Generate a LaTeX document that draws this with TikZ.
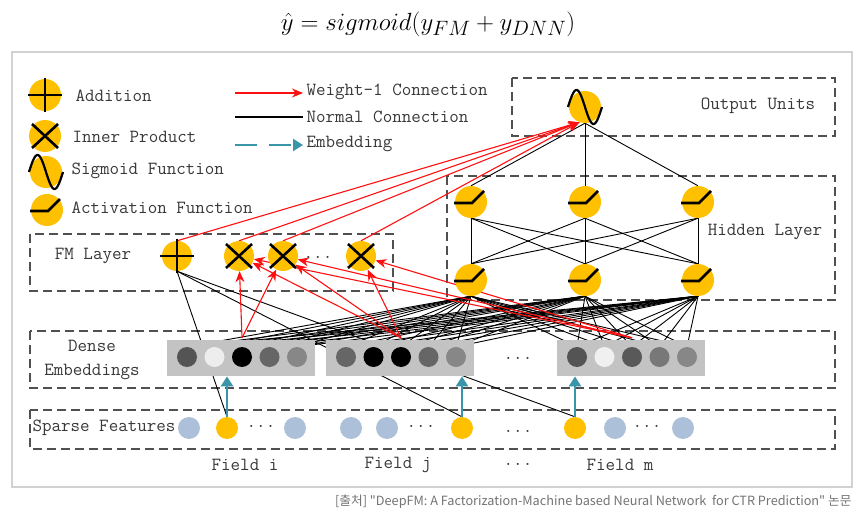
\documentclass[tikz,border=0pt]{standalone}
\usepackage{fontspec}
\newfontfamily\cjkfont{Noto Sans CJK KR}
\usetikzlibrary{arrows.meta,calc,positioning}
\definecolor{unitgold}{HTML}{FFC000}
\definecolor{sparseblue}{HTML}{ADC0DA}
\definecolor{embteal}{HTML}{3A94AA}
\definecolor{densegray}{HTML}{C3C3C3}
\definecolor{boxgray}{HTML}{505050}
\definecolor{framegray}{HTML}{D2D2D2}
\definecolor{wred}{HTML}{FF1010}
\pgfdeclarelayer{bg}
\pgfdeclarelayer{edges}
\pgfsetlayers{bg,edges,main}

\tikzset{
  unit/.style={circle, fill=unitgold, inner sep=0pt, minimum size=32pt},
  fmunit/.style={unit, minimum size=30pt},
  feat/.style={circle, inner sep=0pt, minimum size=22pt},
  emb/.style={circle, inner sep=0pt, minimum size=20pt},
  layerbox/.style={draw=boxgray, line width=1.6pt, dash pattern=on 9pt off 5pt},
  lbl/.style={font=\ttfamily\fontsize{18.5}{20}\selectfont, text=black!78},
  weightline/.style={wred, line width=1.1pt, -{Stealth[length=11pt,width=9pt]}},
  normline/.style={black, line width=0.9pt},
  embarrow/.style={embteal, line width=2.6pt, -{Triangle[length=10pt,width=12pt]}},
  iconline/.style={black, line width=2.6pt},
  addpic/.pic={\draw[iconline] (-17,0) -- (17,0) (0,-17) -- (0,17);},
  prodpic/.pic={\draw[iconline] (-13,-12) -- (13,12) (-13,12) -- (13,-12);},
  sigpic/.pic={\draw[iconline, line width=2.2pt] plot[domain=-17:17, samples=40, smooth] (\x, {-17*sin(180*(\x+17)/17)});},
  actpic/.pic={\draw[iconline, line join=miter] (-17,1) -- (1,1) -- (13,-11);},
}

\begin{document}
\begin{tikzpicture}[x=1pt, y=-1pt]
\useasboundingbox (0,0) rectangle (863,519);

% formula and frame
\node[font=\fontsize{31}{34}\selectfont, inner sep=0pt] (formula) at (428,24) {$\hat{y} = sigmoid(y_{FM} + y_{DNN})$};
\begin{pgfonlayer}{bg}
  \draw[framegray, line width=1.5pt, fill=white] (12,52) rectangle (852,487);
  % layer boxes
  \draw[layerbox] (512,78) rectangle (835,136);
  \draw[layerbox] (447,176) rectangle (835,300);
  \draw[layerbox] (30,234) rectangle (393,291);
  \draw[layerbox] (30,331) rectangle (835,388);
  \draw[layerbox] (30,410) rectangle (835,449);
\end{pgfonlayer}

% legend
\node[unit] (lgadd) at (45,95) {}; \pic at (lgadd) {addpic};
\node[unit] (lgprod) at (45,136) {}; \pic at (lgprod) {prodpic};
\node[unit] (lgsig) at (46,172) {}; \pic at (lgsig) {sigpic};
\node[unit] (lgact) at (47,210) {}; \pic at (lgact) {actpic};
\node[lbl, anchor=west] (lgaddtxt) at (72,96) {Addition};
\node[lbl, anchor=west] (lgprodtxt) at (69,137) {Inner Product};
\node[lbl, anchor=west] (lgsigtxt) at (68,171) {Sigmoid Function};
\node[lbl, anchor=west] (lgacttxt) at (68,208) {Activation Function};

\node[lbl, anchor=west] (wtxt) at (303,92) {Weight-1 Connection};
\node[lbl, anchor=west] (ntxt) at (303,117) {Normal Connection};
\node[lbl, anchor=west] (etxt) at (303,144) {Embedding};
\coordinate (wfrom) at (235,93);
\coordinate (nfrom) at (235,117);
\coordinate (efrom) at (235,145);
\draw[weightline] (wfrom) -- (wfrom -| wtxt.west);
\draw[normline, line width=1.2pt] (nfrom) -- (nfrom -| ntxt.west);
\draw[embarrow, line width=2.4pt, dash pattern=on 22pt off 12pt] (efrom) -- (efrom -| etxt.west);

% layer names
\node[lbl] (outtxt) at (758,106) {Output Units};
\node[lbl] (hidtxt) at (765,232) {Hidden Layer};
\node[lbl] (fmtxt) at (93,256) {FM Layer};
\node[lbl, align=center, font=\ttfamily\fontsize{18.5}{24}\selectfont] (densetxt) at (92,360) {Dense\\Embeddings};
\node[lbl] (sparsetxt) at (104,428) {Sparse Features};

% output and hidden units
\node[unit] (out) at (585,107) {}; \pic at (out) {sigpic};
\foreach \i/\hx in {1/471,2/585,3/698} {
  \node[unit] (ht\i) at (\hx,202) {}; \pic at (ht\i) {actpic};
  \node[unit] (hb\i) at (\hx,280) {}; \pic at (hb\i) {actpic};
}

% FM units
\node[fmunit] (fmadd) at (177,256) {}; \pic at (fmadd) {addpic};
\foreach \i/\fx in {1/239,2/283,3/361} {
  \node[fmunit] (fmx\i) at (\fx,256) {}; \pic at (fmx\i) {prodpic};
}
\node[lbl] (fmdots) at (318,257) {...};

% dense embeddings
\foreach \g/\gx/\ca/\cb/\cc/\cd/\ce in {1/167/black!67/black!7/black/black!60/black!47,
    2/326/black!60/black/black/black!60/black!47,
    3/557/black!67/black!6/black!65/black!53/black!47} {
  \node[fill=densegray, inner sep=0pt, minimum width=148, minimum height=36, anchor=north west] (g\g) at (\gx,340) {};
  \foreach \k/\c in {1/\ca,2/\cb,3/\cc,4/\cd,5/\ce} {
    \node[emb, fill=\c] (d\g\k) at ({\gx+20+27.5*(\k-1)},357) {};
  }
}
\node[lbl] (densedots) at (518,358) {...};

% sparse features
\node[feat, fill=sparseblue] (s1) at (189,428) {};
\node[feat, fill=unitgold] (sy1) at (227,428) {};
\node[lbl] (sdots1) at (261,426) {...};
\node[feat, fill=sparseblue] (s2) at (295,428) {};
\node[feat, fill=sparseblue] (s3) at (351,428) {};
\node[feat, fill=sparseblue] (s4) at (387,428) {};
\node[lbl] (sdots2) at (421,426) {...};
\node[feat, fill=unitgold] (sy2) at (462,428) {};
\node[lbl] (sdots3) at (518,431) {...};
\node[feat, fill=unitgold] (sy3) at (575,428) {};
\node[feat, fill=sparseblue] (s5) at (615,428) {};
\node[lbl] (sdots4) at (647,426) {...};
\node[feat, fill=sparseblue] (s6) at (683,428) {};

\node[lbl] (fieldi) at (245,465) {Field i};
\node[lbl] (fieldj) at (398,465) {Field j};
\node[lbl] (fielddots) at (518,464) {...};
\node[lbl] (fieldm) at (620,465) {Field m};

% connections
\begin{pgfonlayer}{edges}
  \foreach \g in {1,2,3}
    \foreach \k in {1,...,5}
      \foreach \h in {1,2,3}
        \draw[normline] (d\g\k.north) -- (hb\h.south);
  \foreach \a in {1,2,3}
    \foreach \b in {1,2,3}
      \draw[normline] (ht\a.south) -- (hb\b.north);
  \foreach \a in {1,2,3}
    \draw[normline] (out.south) -- (ht\a.north);
  \foreach \j in {1,2,3} {
    \draw[normline] (fmadd.south) -- (sy\j.north);
    \draw[embarrow] (sy\j.north) -- (sy\j.north |- g\j.south);
  }
  % weight-1 connections
  \foreach \g in {1,2,3}
    \coordinate (c\g) at ($(d\g3.north)+(0,-9)$);
  \foreach \src/\dst in {c1/fmx1, c1/fmx2, c2/fmx1, c2/fmx2, c2/fmx3, c3/fmx1, c3/fmx2, c3/fmx3}
    \draw[weightline] (\src) -- (\dst);
  \foreach \src in {fmadd, fmx1, fmx2, fmx3}
    \draw[weightline] (\src.north) -- (out.250);
\end{pgfonlayer}

% source line
\node[anchor=east, font=\cjkfont\fontsize{12.7}{14}\selectfont, text=black!55] (source) at (855,502)
  {[출처] "DeepFM: A Factorization-Machine based Neural Network\ \ for CTR Prediction" 논문};
\end{tikzpicture}
\end{document}
